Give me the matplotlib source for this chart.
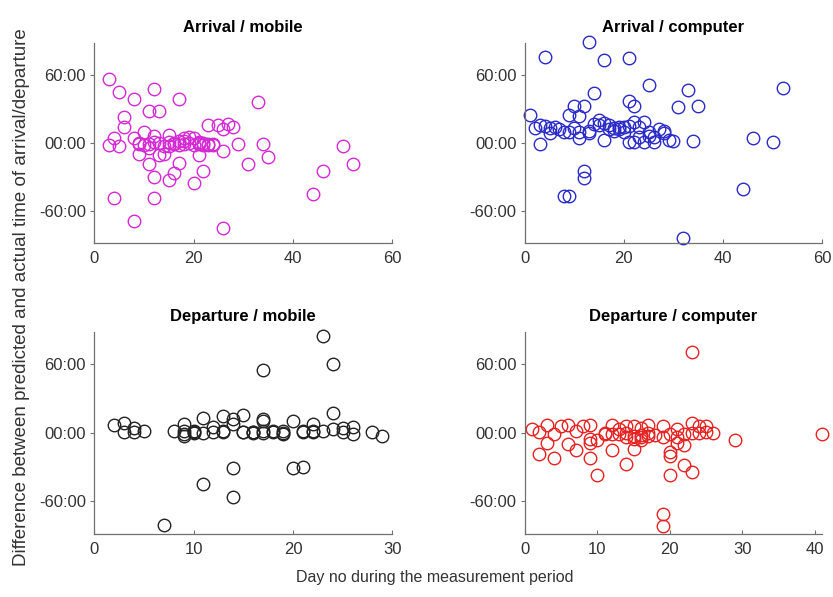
import numpy as np
import matplotlib
matplotlib.use('Agg')
import matplotlib.pyplot as plt
from matplotlib.ticker import FuncFormatter


# difference between predicted and actual time, in minutes, per day of the measurement period

arr_mob_day = [3, 5, 8, 12, 17, 33, 11, 13, 6, 6, 3, 4, 5, 8, 10, 9, 9, 11, 12, 15, 15, 14, 13, 11, 12,
               15, 16, 17, 20, 21, 22, 23, 25, 26, 27, 28, 26, 29, 31, 34, 35, 4, 12, 8, 26, 44, 46, 50, 52,
               9, 10, 11, 12, 13, 14, 15, 16, 17, 17, 18, 18, 19, 19, 20, 20, 21, 21, 22, 22, 23, 24, 24,
               16, 18, 21, 23]
arr_mob_diff = [57, 45, 39, 48, 39, 36, 28, 28, 23, 14, -2, 4, -3, 4, 10, -1, -10, -4, 6, 7, -3, -10, -11, -19, -30,
                -33, -27, -18, -35, -11, -25, 16, 16, 12, 17, 14, -7, -1, -19, -1, -12, -49, -49, -69, -75, -45, -25, -3, -19,
                0, -2, -1, 1, 0, -3, 1, -1, 2, -2, 4, -1, 5, 0, 4, -2, -1, 1, -2, 0, -2, -2, -1,
                0, 2, 0, -1]

arr_com_day = [1, 4, 13, 16, 21, 25, 33, 52, 14, 31, 35, 21, 22, 10, 12, 9, 11, 3, 12, 12, 8, 9, 44, 46, 50, 32, 34,
               2, 4, 5, 6, 7, 9, 11, 13, 14, 15, 16, 17, 18, 19, 20, 21, 22, 22, 23, 24, 24, 25, 26, 27, 28, 29, 30,
               3, 5, 8, 10, 11, 13, 15, 16, 17, 18, 19, 20, 21, 23, 25, 26, 28]
arr_com_diff = [25, 76, 89, 73, 75, 51, 47, 49, 44, 32, 33, 37, 33, 33, 33, 25, 24, -1, -25, -31, -47, -47, -41, 4, 1, -84, 2,
                13, 15, 9, 14, 12, 10, 4, 9, 17, 20, 3, 12, 13, 12, 14, 1, 19, 1, 14, 19, 1, 10, 1, 12, 11, 3, 2,
                16, 13, 10, 13, 10, 11, 16, 18, 16, 11, 14, 10, 15, 5, 6, 5, 9]

dep_mob_day = [2, 3, 3, 4, 4, 5, 7, 8, 9, 9, 9, 9, 10, 10, 11, 11, 11, 12, 13, 13, 14, 14, 14, 14, 15, 15, 16, 16,
               17, 17, 17, 17, 18, 19, 19, 20, 20, 21, 21, 22, 22, 23, 23, 24, 24, 24, 25, 26, 26, 28, 29,
               12, 15, 18, 19, 21, 22, 25, 17, 10, 13, 16]
dep_mob_diff = [7, 9, 1, 4, 1, 2, -81, 2, 8, 2, -1, -3, 2, 1, 13, 0, -45, 5, 15, 2, 12, 8, -31, -56, 16, 1, 1, 0,
                55, 12, 10, 2, 1, 2, -1, 10, -31, 2, -30, 8, 1, 85, 2, 60, 17, 3, 4, 5, -1, 1, -3,
                1, 1, 2, 0, 1, 2, 1, 0, 0, 1, 1]

dep_com_day = [1, 2, 2, 3, 3, 4, 4, 5, 6, 6, 7, 7, 8, 9, 9, 9, 9, 10, 10, 11, 11, 12, 12, 13, 13, 14, 14, 14,
               15, 15, 15, 16, 16, 17, 17, 18, 19, 19, 19, 19, 20, 20, 20, 21, 21, 21, 22, 22, 22,
               23, 23, 23, 23, 24, 24, 25, 25, 26, 29, 41, 14, 15, 16, 16, 17, 12, 20]
dep_com_diff = [3, 1, -19, 7, -9, -1, -22, 6, 7, -10, 2, -15, 6, 7, -5, -9, -22, -6, -37, -1, 0, 7, -15, 3, -1, 6, -4, -27,
                6, -3, -14, 4, -4, 7, 0, -2, 6, -4, -71, -82, -17, -20, -37, 3, -4, -9, -1, -11, -28,
                71, 9, 0, -34, 6, 0, 6, 1, 0, -6, -1, 0, -5, -6, -2, -3, -1, -1]

panels = [
    ('Arrival / mobile', arr_mob_day, arr_mob_diff, '#d42ad4', 60),
    ('Arrival / computer', arr_com_day, arr_com_diff, '#2a2ac8', 60),
    ('Departure / mobile', dep_mob_day, dep_mob_diff, '#222222', 30),
    ('Departure / computer', dep_com_day, dep_com_diff, '#e52222', 41),
]

plt.rcParams['font.family'] = ['Liberation Sans', 'DejaVu Sans']

fig = plt.figure(figsize=(8.33, 5.97), dpi=100)

# axes boxes (left, bottom, width, height) in figure fractions
boxes = [
    [0.113, 0.593, 0.358, 0.335],
    [0.630, 0.593, 0.357, 0.335],
    [0.113, 0.106, 0.358, 0.338],
    [0.630, 0.106, 0.357, 0.338],
]


def mmss(v, pos):
	if v < 0:
		return '-%02d:00' % abs(v)
	return '%02d:00' % v


for (title, xs, ys, col, xmax), box in zip(panels, boxes):

	ax = fig.add_axes(box)
	ax.plot(xs, ys, linestyle='', marker='o', markersize=9, markerfacecolor='none',
	        markeredgecolor=col, markeredgewidth=1.0, clip_on=False)

	ax.set_xlim(0, xmax)
	ax.set_ylim(-88.5, 88.5)
	ax.set_yticks([-60, 0, 60])
	ax.yaxis.set_major_formatter(FuncFormatter(mmss))
	if xmax == 60:
		ax.set_xticks([0, 20, 40, 60])
	elif xmax == 30:
		ax.set_xticks([0, 10, 20, 30])
	else:
		ax.set_xticks([0, 10, 20, 30, 40])

	ax.spines['top'].set_visible(False)
	ax.spines['right'].set_visible(False)
	for s in ['left', 'bottom']:
		ax.spines[s].set_color('#707070')
		ax.spines[s].set_linewidth(0.9)
	ax.tick_params(axis='x', direction='in', length=3, color='#707070', labelsize=12, labelcolor='#333333', pad=6)
	ax.tick_params(axis='y', direction='out', length=3, color='#707070', labelsize=12, labelcolor='#333333', pad=3)

	ax.set_title(title, fontsize=12, fontweight='bold', pad=8)


fig.text(0.522, 0.032, 'Day no during the measurement period', fontsize=11.5, color='#333333', ha='center', va='center')
fig.text(0.026, 0.502, 'Difference between predicted and actual time of arrival/departure', fontsize=13.5,
         color='#333333', ha='center', va='center', rotation=90)

plt.savefig('out.png', dpi=100)
